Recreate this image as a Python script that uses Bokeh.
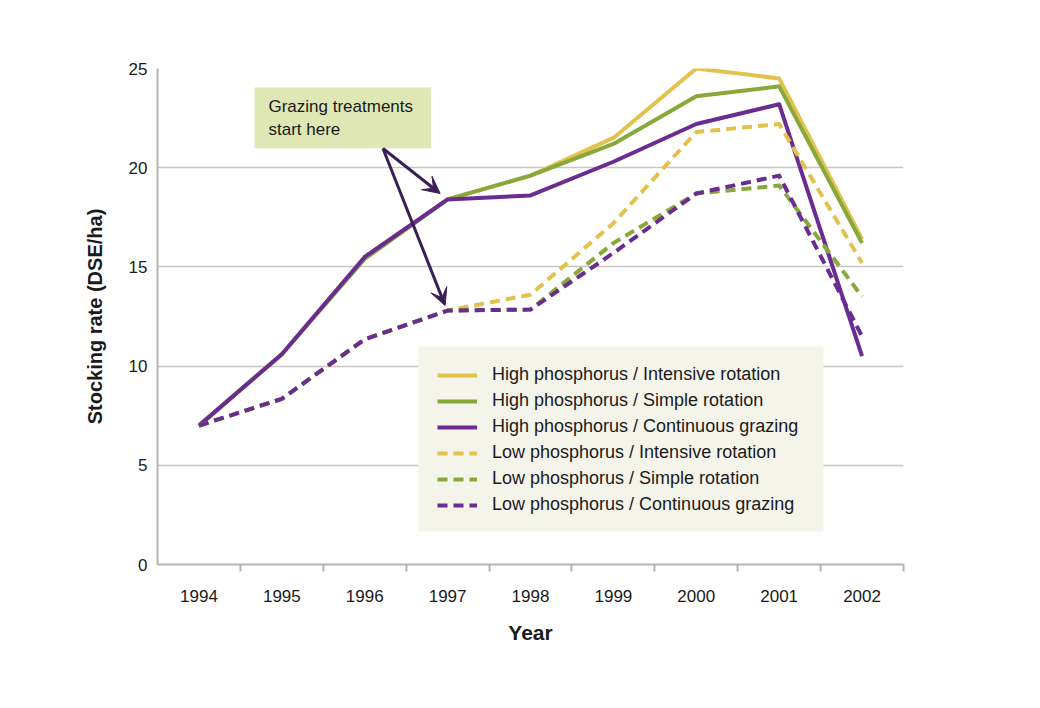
from bokeh.plotting import figure
from bokeh.models import Range1d, FixedTicker, Label, Arrow, VeeHead, Legend, LegendItem, BoxAnnotation
from bokeh.embed import file_html
from bokeh.resources import INLINE

# ---- data ----
years = [1994, 1995, 1996, 1997, 1998, 1999, 2000, 2001, 2002]
year_labels = ["1994", "1995", "1996", "1997", "1998", "1999", "2000", "2001", "2002"]
y_ticks = [0, 5, 10, 15, 20, 25]

hp_intensive = [7.0, 10.6, 15.5, 18.4, 19.6, 21.5, 25.0, 24.5, 16.4]
hp_simple = [7.0, 10.6, 15.4, 18.4, 19.6, 21.2, 23.6, 24.1, 16.2]
hp_continuous = [7.0, 10.6, 15.5, 18.4, 18.6, 20.3, 22.2, 23.2, 10.5]
lp_intensive = [7.0, 8.35, 11.35, 12.8, 13.6, 17.2, 21.8, 22.2, 15.2]
lp_simple = [7.0, 8.35, 11.35, 12.8, 12.85, 16.2, 18.7, 19.1, 13.5]
lp_continuous = [7.0, 8.35, 11.35, 12.8, 12.85, 15.7, 18.7, 19.6, 11.5]

series_labels = [
    "High phosphorus / Intensive rotation",
    "High phosphorus / Simple rotation",
    "High phosphorus / Continuous grazing",
    "Low phosphorus / Intensive rotation",
    "Low phosphorus / Simple rotation",
    "Low phosphorus / Continuous grazing",
]

GOLD = "#e2c14d"
GREEN = "#87a83b"
PURPLE = "#6a2c91"
ARROW = "#3a1f55"
FONT = "Liberation Sans"
TEXT = "#1a1a1a"
AXIS = "#b4b4b6"

p = figure(
    width=1024, height=692,
    output_backend="svg", toolbar_location=None,
    x_range=Range1d(1993.5, 2002.5), y_range=Range1d(0, 25),
    min_border_left=157, min_border_right=121,
    min_border_top=68, min_border_bottom=128,
)
p.outline_line_color = None
p.background_fill_color = "white"
p.border_fill_color = "white"

# x axis: labels at centres, ticks between categories
xa = p.xaxis[0]
xa.ticker = FixedTicker(ticks=years, minor_ticks=[y + 0.5 for y in years])
xa.major_label_overrides = {y: l for y, l in zip(years, year_labels)}
xa.major_tick_line_color = None
xa.major_tick_out = 0
xa.minor_tick_in = 0
xa.minor_tick_out = 7
xa.minor_tick_line_color = AXIS
xa.minor_tick_line_width = 2
xa.axis_line_color = AXIS
xa.axis_line_width = 2
xa.major_label_text_font = FONT
xa.major_label_text_font_size = "17px"
xa.major_label_text_color = TEXT
xa.major_label_standoff = 18
xa.axis_label = "Year"
xa.axis_label_text_font = FONT
xa.axis_label_text_font_size = "21px"
xa.axis_label_text_font_style = "bold"
xa.axis_label_text_color = TEXT
xa.axis_label_standoff = 16

ya = p.yaxis[0]
ya.ticker = FixedTicker(ticks=y_ticks)
ya.major_tick_line_color = None
ya.major_tick_out = 0
ya.minor_tick_line_color = None
ya.axis_line_color = AXIS
ya.axis_line_width = 2
ya.major_label_text_font = FONT
ya.major_label_text_font_size = "17px"
ya.major_label_text_color = TEXT
ya.major_label_standoff = 10
ya.axis_label = "Stocking rate (DSE/ha)"
ya.axis_label_text_font = FONT
ya.axis_label_text_font_size = "20px"
ya.axis_label_text_font_style = "bold"
ya.axis_label_text_color = TEXT
ya.axis_label_standoff = 20

p.xgrid.visible = False
p.ygrid.ticker = FixedTicker(ticks=y_ticks)
p.ygrid.grid_line_color = "#c6c6c6"
p.ygrid.grid_line_width = 1.3

series = [
    (hp_intensive, GOLD, "solid"),
    (hp_simple, GREEN, "solid"),
    (hp_continuous, PURPLE, "solid"),
    (lp_intensive, GOLD, "10 6"),
    (lp_simple, GREEN, "10 6"),
    (lp_continuous, PURPLE, "10 6"),
]
items = []
for (vals, col, dash), lab in zip(series, series_labels):
    r = p.line(years, vals, line_color=col, line_width=4, line_dash=dash, line_join="round")
    items.append(LegendItem(label=lab, renderers=[r]))

# legend background panel
p.add_layout(BoxAnnotation(left=1996.648, right=2001.534, top=10.99, bottom=1.66,
                           fill_color="#f5f4ea", fill_alpha=1.0, line_color=None))

legend = Legend(
    items=items, location=(280, 49), margin=0, padding=0,
    background_fill_alpha=0.0, border_line_color=None,
    spacing=5, label_height=20, glyph_height=20, glyph_width=40, label_standoff=15,
    label_text_font=FONT, label_text_font_size="18px", label_text_color=TEXT,
)
p.add_layout(legend, "center")

# annotation box
note = Label(
    x=1994.67, y=24.04, text="Grazing treatments\nstart here", anchor="top_left",
    background_fill_color="#dfe8b5", padding=(14, 18, 9, 9),
    text_font=FONT, text_font_size="17px", text_color=TEXT, text_line_height=1.25,
)
p.add_layout(note)

i97 = years.index(1997)
start_x, start_y = 1996.22, 20.97
for end_x, end_y in [(1997 - 0.09, hp_continuous[i97] + 0.3), (1997 - 0.03, lp_continuous[i97] + 0.25)]:
    p.add_layout(Arrow(
        x_start=start_x, y_start=start_y, x_end=end_x, y_end=end_y,
        line_color=ARROW, line_width=3,
        end=VeeHead(size=17, fill_color=ARROW, line_color=ARROW, line_width=1),
    ))

open("out.html", "w").write(file_html(p, INLINE))
